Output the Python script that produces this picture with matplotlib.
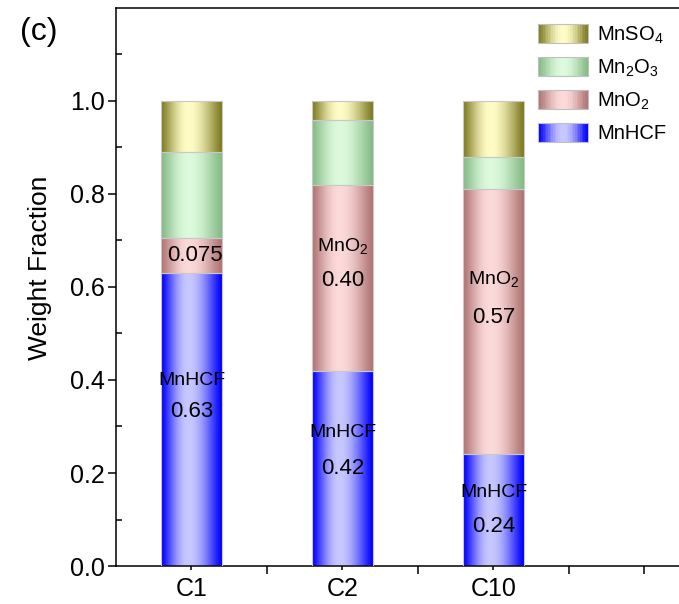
import numpy as np
import matplotlib.pyplot as plt
from matplotlib.colors import to_rgb
from matplotlib.legend_handler import HandlerBase
from matplotlib.patches import Rectangle

plt.rcParams['font.family'] = ['Liberation Sans', 'DejaVu Sans']
plt.rcParams['mathtext.default'] = 'regular'

# data
samples = ['C1', 'C2', 'C10']
phases = ['MnHCF', 'MnO$_2$', 'Mn$_2$O$_3$', 'MnSO$_4$']
mnhcf = [0.63, 0.42, 0.24]
mno2 = [0.075, 0.40, 0.57]
mn2o3 = [0.185, 0.14, 0.07]
mnso4 = [0.11, 0.04, 0.12]

# in-bar annotations: (sample index, y, text, fontsize)
annotations = [
    (0, 0.399, 'MnHCF', 14), (0, 0.333, '0.63', 16), (0.02, 0.667, '0.075', 16),
    (1, 0.689, 'MnO$_2$', 14), (1, 0.614, '0.40', 16),
    (1, 0.288, 'MnHCF', 14), (1, 0.210, '0.42', 16),
    (2, 0.618, 'MnO$_2$', 14), (2, 0.534, '0.57', 16),
    (2, 0.157, 'MnHCF', 14), (2, 0.086, '0.24', 16),
]

edge_colors = ['#0000ff', '#b07474', '#86bb86', '#7f7b22']
mid_colors = ['#c8c8ff', '#fcdada', '#ddfadd', '#fffcc6']


def gradient(edge, mid, n=64, peak=0.45):
    e = np.array(to_rgb(edge))
    m = np.array(to_rgb(mid))
    t = np.linspace(0, 1, n)
    s = np.where(t < peak, t / peak, (1 - t) / (1 - peak))
    mix = np.sin(s * np.pi / 2) ** 1.2
    return e[None, :] + (m - e)[None, :] * mix[:, None]


class GradientHandler(HandlerBase):
    def __init__(self, cols):
        super().__init__()
        self.cols = cols

    def create_artists(self, legend, orig_handle, xdescent, ydescent,
                       width, height, fontsize, trans):
        n = len(self.cols)
        arts = []
        for k, c in enumerate(self.cols):
            arts.append(Rectangle((-xdescent + width * k / n, -ydescent),
                                  width / n * 1.1, height, facecolor=c,
                                  edgecolor='none', transform=trans))
        arts.append(Rectangle((-xdescent, -ydescent), width, height,
                              facecolor='none', edgecolor='#c0c0c0',
                              lw=0.8, transform=trans))
        return arts


fig = plt.figure(figsize=(6.79, 6.04), dpi=100)
ax = fig.add_axes([0.1708, 0.0629, 0.934, 0.9239])

x = np.arange(1, len(samples) + 1)
layers = [mnhcf, mno2, mn2o3, mnso4]
bottom = np.zeros(len(samples))
for vals, ec, mc in zip(layers, edge_colors, mid_colors):
    bars = ax.bar(x, vals, width=0.4, bottom=bottom, facecolor='none',
                  edgecolor='#c8c8c8', linewidth=0.8, zorder=3)
    grad = gradient(ec, mc)[None, :, :]
    for patch in bars:
        x0, y0 = patch.get_x(), patch.get_y()
        w, h = patch.get_width(), patch.get_height()
        im = ax.imshow(grad, extent=[x0, x0 + w, y0, y0 + h], aspect='auto',
                       interpolation='bilinear', zorder=2)
        im.set_clip_path(patch)
    bottom = bottom + np.array(vals)

for i, y, txt, fs in annotations:
    ax.text(1 + i, y, txt, ha='center', va='center', fontsize=fs, zorder=4)

ax.set_xlim(0.5, 4.7)
ax.set_ylim(0, 1.2)

ax.set_xticks(x)
ax.set_xticklabels(samples, fontsize=18)
ax.set_xticks([1.5, 2.5, 3.5, 4.0, 4.5], minor=True)
ax.tick_params(axis='x', which='major', direction='out', length=3, width=1.1, pad=5)
ax.tick_params(axis='x', which='minor', direction='out', length=6, width=1.1)

ax.set_yticks([0, 0.2, 0.4, 0.6, 0.8, 1.0])
ax.set_yticklabels(['0.0', '0.2', '0.4', '0.6', '0.8', '1.0'], fontsize=18)
ax.set_yticks([0.1, 0.3, 0.5, 0.7, 0.9, 1.1], minor=True)
ax.tick_params(axis='y', which='major', direction='out', length=6, width=1.1, pad=2)
ax.tick_params(axis='y', which='minor', direction='in', length=4, width=1.1)

for sp in ax.spines.values():
    sp.set_linewidth(1.1)

ax.set_ylabel('Weight Fraction', fontsize=19)
ax.yaxis.set_label_coords(-0.101, 0.534)

handles = [Rectangle((0, 0), 1, 1) for _ in phases]
hmap = {h: GradientHandler(gradient(ec, mc, n=30, peak=0.5))
        for h, ec, mc in zip(handles, edge_colors, mid_colors)}
fig.legend(handles[::-1], phases[::-1], handler_map=hmap, loc='upper left',
           bbox_to_anchor=(538 / 679, 1 - 24 / 604), frameon=False,
           fontsize=14.5, handlelength=2.5, handleheight=1.1,
           labelspacing=0.55, handletextpad=0.45, borderpad=0,
           borderaxespad=0)

fig.text(20 / 679, 1 - 32 / 604, '(c)', fontsize=23, va='center')

fig.savefig('out.png', dpi=100)
